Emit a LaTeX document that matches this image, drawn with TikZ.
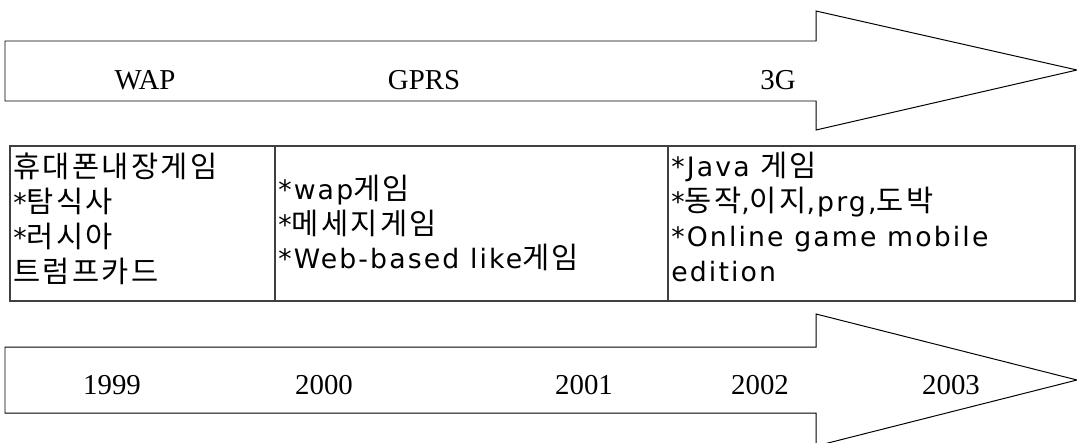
\documentclass[tikz,border=0pt]{standalone}
\usepackage{fontspec}
\usetikzlibrary{positioning}

\setmainfont{Liberation Serif}
\newfontfamily\latfont[LetterSpace=8]{DejaVu Sans}
\newfontfamily\korfont[LetterSpace=8]{Noto Sans CJK KR}
\newcommand\hg[1]{{\korfont\fontsize{21}{24.8}\selectfont #1}}

\tikzset{
  band/.style={draw, line width=0.7pt, fill=white},
  era/.style={font=\fontsize{20.5}{24}\selectfont, anchor=base, inner sep=0pt},
  grid/.style={draw=black!75, line width=0.8pt},
  cell/.style={inner sep=0pt, align=left,
    font=\latfont\fontsize{19}{24.8}\selectfont}
}

\begin{document}
\begin{tikzpicture}[x=0.025cm, y=-0.025cm]
\clip (0,0) rectangle (1077,442);

% network arrow
\draw[band] (5,41) -- (816,41) -- (816,11) -- (1077,70) -- (816,130)
  -- (816,101) -- (5,101) -- cycle;
\node[era] (wap) at (145,89) {WAP};
\node[era] (gprs) at (424,89) {GPRS};
\node[era] (g3) at (778,89) {3G};

% games per period
\draw[grid] (10,146) rectangle (1075,301);
\draw[grid] (275,146) -- (275,301);
\draw[grid] (668,146) -- (668,301);
\node[cell, anchor=north west] (old) at (13,153)
  {\hg{휴대폰내장게임}\\{*}\hg{탐식사}\\{*}\hg{러시아}\\\hg{트럼프카드}};
\node[cell, anchor=west] (mid) at (278,223)
  {{*}wap\hg{게임}\\{*}\hg{메세지게임}\\{*}Web-based like\hg{게임}};
\node[cell, anchor=north west] (new) at (671,152)
  {{*}Java \hg{게임}\\{*}\hg{동작},\hg{이지},prg,\hg{도박}\\{*}Online game mobile\\edition};

% year arrow
\draw[band] (5,347) -- (816,347) -- (816,314) -- (1077,380) -- (816,446)
  -- (816,413) -- (5,413) -- cycle;
\node[era] (y99) at (112,394) {1999};
\node[era] (y00) at (324,394) {2000};
\node[era] (y01) at (584,394) {2001};
\node[era] (y02) at (760,394) {2002};
\node[era] (y03) at (951,394) {2003};

\end{tikzpicture}
\end{document}
